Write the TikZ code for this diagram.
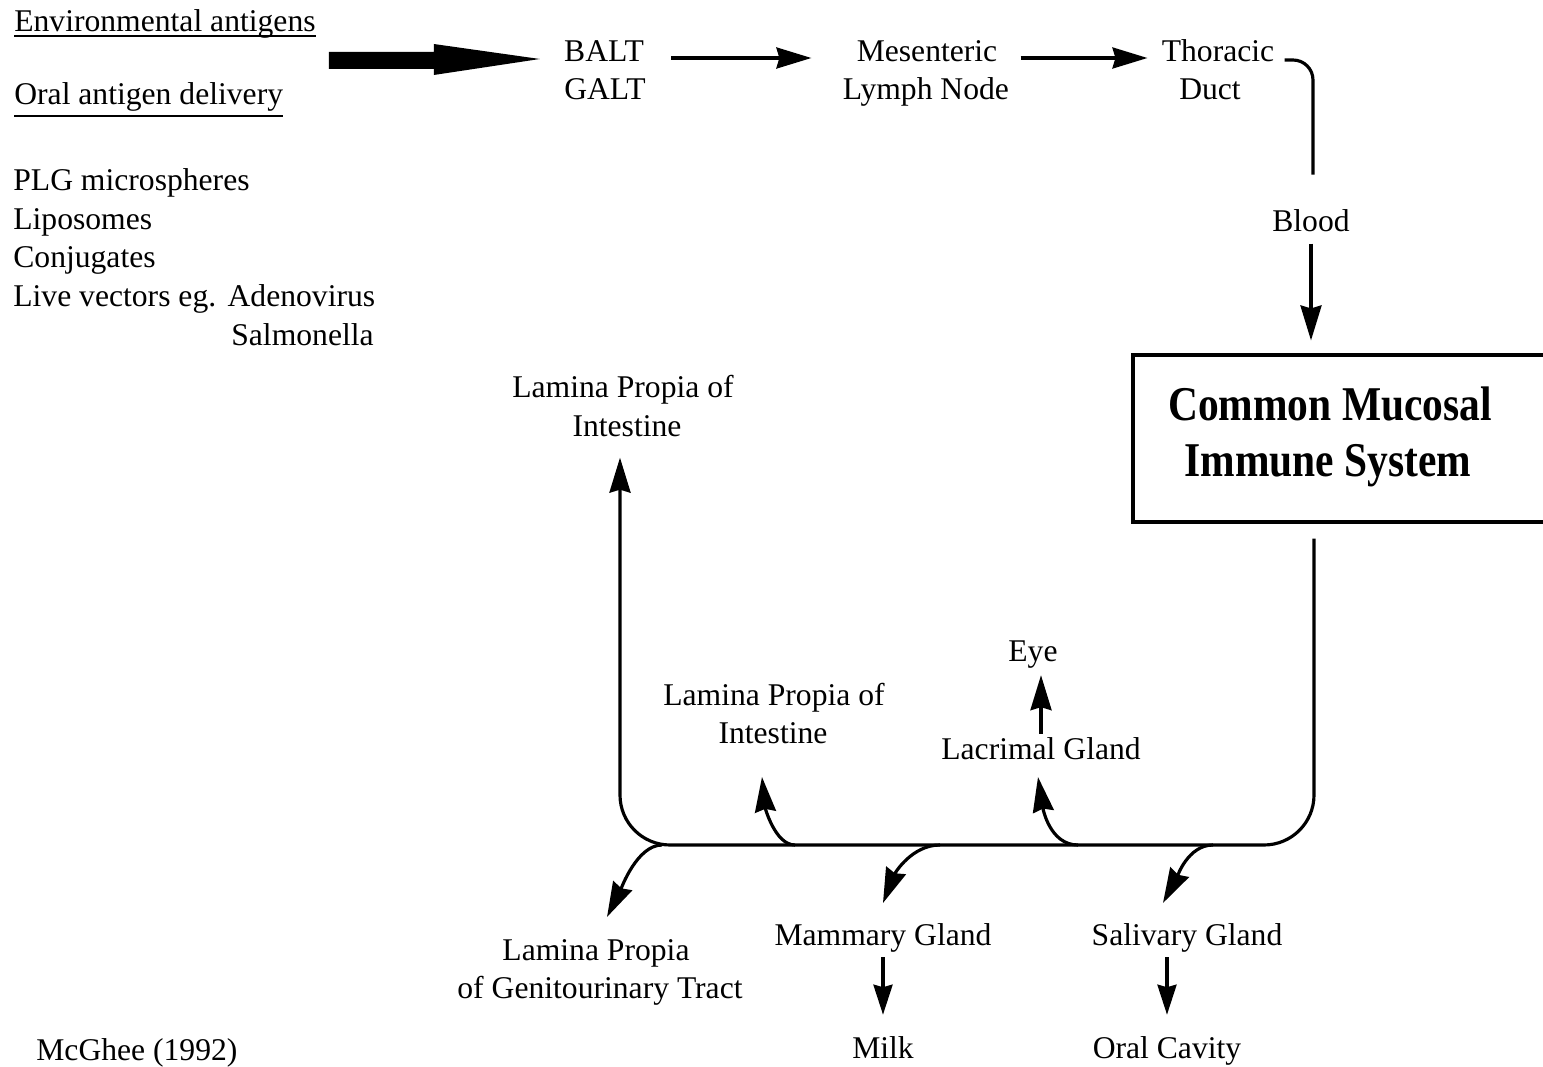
\documentclass[tikz,border=0pt]{standalone}
\usepackage{fontspec}
\setmainfont{Liberation Serif}
\usetikzlibrary{arrows.meta}
\begin{document}
\begin{tikzpicture}[x=0.02cm, y=-0.02cm,
  lbl/.style={inner sep=0pt, font=\fontsize{18pt}{22pt}\selectfont},
  title/.style={inner sep=0pt, font=\fontsize{23.6pt}{28pt}\selectfont\bfseries, yscale=1.17},
  wire/.style={line width=1.8pt},
  arr/.style={wire, -{Stealth[length=0.7cm, width=0.42cm, inset=0.06cm]}},
  smallarr/.style={wire, -{Stealth[length=0.6cm, width=0.38cm, inset=0.05cm]}},
  uline/.style={line width=1.1pt}]
\useasboundingbox (0,0) rectangle (1543,1067);

% antigen sources
\node[lbl, anchor=base west] (env) at (14,32) {Environmental antigens};
\node[lbl, anchor=base west] (oral) at (14,105) {Oral antigen delivery};
\draw[uline] ([shift={(0,4)}]env.base west) -- ([shift={(0,4)}]env.base east);
\draw[uline] ([shift={(0,11)}]oral.base west) -- ([shift={(0,11)}]oral.base east);

\node[lbl, anchor=base west] (plg)  at (13,191) {PLG microspheres};
\node[lbl, anchor=base west] (lipo) at (13,230) {Liposomes};
\node[lbl, anchor=base west] (conj) at (13,268) {Conjugates};
\node[lbl, anchor=base west] (live) at (13,307) {Live vectors eg.\kern6.5pt Adenovirus};
\node[lbl, anchor=base east] (salm) at (374,346) {Salmonella};

% top row
\node[lbl, anchor=base] (balt)  at (604,62)  {BALT};
\node[lbl, anchor=base] (galt)  at (605,100) {GALT};
\node[lbl, anchor=base] (mes)   at (927,62)  {Mesenteric};
\node[lbl, anchor=base] (lymph) at (926,100) {Lymph Node};
\node[lbl, anchor=base] (thor)  at (1218,62) {Thoracic};
\node[lbl, anchor=base] (duct)  at (1210,100) {Duct};
\node[lbl, anchor=base] (blood) at (1311,232) {Blood};

% central box
\node[draw, line width=1.8pt, minimum width=8.3cm, minimum height=3.34cm, inner sep=0pt] (cms) at (1340.5,438.5) {};
\node[title, anchor=base] (cmsA) at (1330,421) {Common Mucosal};
\node[title, anchor=base] (cmsB) at (1328,477) {Immune System};

% effector sites
\node[lbl, anchor=base] (lpi1a) at (623,398) {Lamina Propia of};
\node[lbl, anchor=base] (lpi1b) at (627,437) {Intestine};
\node[lbl, anchor=base] (lpi2a) at (774,705) {Lamina Propia of};
\node[lbl, anchor=base] (lpi2b) at (773,744) {Intestine};
\node[lbl, anchor=base] (eye)   at (1033,662) {Eye};
\node[lbl, anchor=base] (lac)   at (1041,759) {Lacrimal Gland};
\node[lbl, anchor=base] (lpga)  at (596,960) {Lamina Propia};
\node[lbl, anchor=base] (lpgb)  at (600,998) {of Genitourinary Tract};
\node[lbl, anchor=base] (mam)   at (883,945) {Mammary Gland};
\node[lbl, anchor=base] (sal)   at (1187,945) {Salivary Gland};
\node[lbl, anchor=base] (milk)  at (883,1058) {Milk};
\node[lbl, anchor=base] (oralc) at (1167,1058) {Oral Cavity};

\node[lbl, anchor=base west] (ref) at (36,1060) {McGhee (1992)};

% broad arrow from the antigen sources
\fill ([shift={(-24,-3)}]balt.base west) -- ++(-106,-15) -- ++(0,8) -- ++(-105,0)
  -- ++(0,17) -- ++(105,0) -- ++(0,6) -- cycle;

% lymphatic route
\draw[arr] ([shift={(27,-4)}]balt.base east) -- ([shift={(-45,-4)}]mes.base west);
\draw[arr] ([shift={(23,-4)}]mes.base east) -- ([shift={(-14,-4)}]thor.base west);
\draw[wire, rounded corners=0.4cm] ([shift={(10,-2)}]thor.base east) -| ([shift={(2,-35)}]blood.north);
\draw[arr, shorten <=0.22cm, shorten >=0.26cm] (blood.south) -- (blood.south |- cms.north);

% distribution bus
\coordinate (hubR) at (1314,845);
\coordinate (hubL) at (620,845);
\draw[arr, rounded corners=1cm, shorten <=0.3cm, shorten >=0.4cm]
  (hubR |- cms.south) -- (hubR) -- (hubL) -- (hubL |- lpi1b.south);

% branches off the bus
\draw[arr] ([shift={(42,0)}]hubL) .. controls +(-25,0) and +(14,-28) .. ([shift={(11,-43)}]lpga.base);
\draw[arr] ([shift={(175,0)}]hubL) .. controls +(-20,0) and +(3,30) .. ([shift={(-11,33)}]lpi2b.base);
\draw[arr] ([shift={(320,0)}]hubL) .. controls +(-28,0) and +(12,-30) .. ([shift={(0,-42)}]mam.base);
\draw[arr] ([shift={(-236,0)}]hubR) .. controls +(-28,0) and +(5,32) .. ([shift={(-3,18)}]lac.base);
\draw[arr] ([shift={(-101,0)}]hubR) .. controls +(-25,0) and +(14,-26) .. ([shift={(-24,-42)}]sal.base);

% onward flows
\draw[arr, shorten <=0.06cm, shorten >=0.12cm] (lac.north) -- (lac.north |- eye.south);
\draw[smallarr, shorten <=0.1cm, shorten >=0.42cm] (mam.south) -- (mam.south |- milk.north);
\draw[smallarr, shorten <=0.1cm, shorten >=0.42cm] (oralc.north |- sal.south) -- (oralc.north);
\end{tikzpicture}
\end{document}
